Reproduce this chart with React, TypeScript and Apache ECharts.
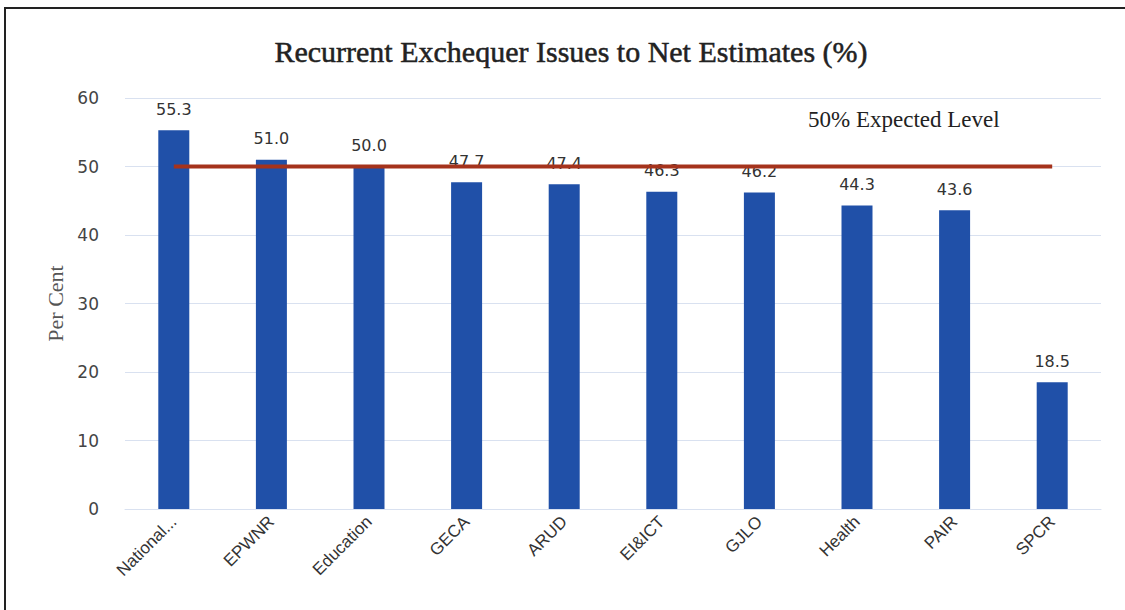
import React, { useEffect, useRef } from "react";
import * as echarts from "echarts";

const categories = ["National...", "EPWNR", "Education", "GECA", "ARUD", "EI&ICT", "GJLO", "Health", "PAIR", "SPCR"];
const values = [55.3, 51.0, 50.0, 47.7, 47.4, 46.3, 46.2, 44.3, 43.6, 18.5];
const expectedLevel = [50, 50, 50, 50, 50, 50, 50, 50, 50, 50];
const yTicks = [0, 10, 20, 30, 40, 50, 60];

export default function App() {
  const ref = useRef<HTMLDivElement>(null);
  useEffect(() => {
    document.body.style.margin = "0";
    const chart = echarts.init(ref.current!, undefined, { renderer: "svg" });
    chart.setOption({
      animation: false,
      backgroundColor: "#ffffff",
      title: {
        text: "Recurrent Exchequer Issues to Net Estimates (%)",
        left: 566,
        textAlign: "center",
        top: 31,
        textStyle: {
          fontFamily: "Liberation Serif",
          fontSize: 30,
          fontWeight: "normal",
          color: "#222",
          textBorderColor: "#222",
          textBorderWidth: 0.5,
        },
      },
      graphic: [
        { type: "rect", shape: { x: 5, y: 8, width: 1125, height: 610 }, style: { fill: "none", stroke: "#222", lineWidth: 2 } },
        { type: "text", x: 808, y: 108, style: { text: "50% Expected Level", font: "23px 'Liberation Serif'", fill: "#222" } },
      ],
      grid: { left: 125, right: 24, top: 98, bottom: 101 },
      xAxis: {
        type: "category",
        data: categories,
        axisLine: { show: true, lineStyle: { color: "#d9e1f0" } },
        axisTick: { show: false },
        axisLabel: { rotate: 45, color: "#333", fontFamily: "Liberation Sans", fontSize: 17, margin: 10 },
      },
      yAxis: {
        type: "value",
        min: yTicks[0],
        max: yTicks[yTicks.length - 1],
        interval: 10,
        name: "Per Cent",
        nameLocation: "middle",
        nameGap: 53,
        nameTextStyle: { fontFamily: "Liberation Serif", fontSize: 22, color: "#555" },
        axisLine: { show: false },
        axisTick: { show: false },
        axisLabel: { color: "#444", fontFamily: "DejaVu Sans", fontSize: 17, margin: 26 },
        splitLine: { lineStyle: { color: "#d9e1f0" } },
      },
      series: [
        {
          type: "bar",
          data: values,
          barWidth: 31,
          itemStyle: { color: "#2050a8" },
          label: {
            show: true,
            position: "top",
            distance: 13,
            formatter: (p: any) => p.value.toFixed(1),
            color: "#333",
            fontFamily: "DejaVu Sans",
            fontSize: 16,
          },
          z: 2,
        },
        {
          type: "line",
          data: expectedLevel,
          symbol: "none",
          lineStyle: { color: "#a5331c", width: 4 },
          z: 5,
        },
      ],
    });
    return () => chart.dispose();
  }, []);
  return <div ref={ref} style={{ width: 1125, height: 610 }} />;
}
